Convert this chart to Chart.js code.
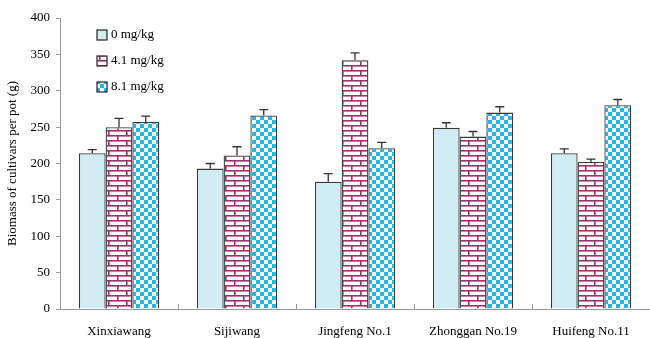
<!DOCTYPE html>
<html>
<head>
<meta charset="utf-8">
<script src="https://cdn.jsdelivr.net/npm/chart.js@4"></script>
<style>
    html, body { margin: 0; padding: 0; background: #ffffff; }
    #box { width: 650px; height: 338px; }
</style>
</head>
<body>
<div id="box"><canvas id="biomassaChart"></canvas></div>
<script>
// Dados
const cultivares = ['Xinxiawang', 'Sijiwang', 'Jingfeng No.1', 'Zhonggan No.19', 'Huifeng No.11'];
const rotulosDose = ['0 mg/kg', '4.1 mg/kg', '8.1 mg/kg'];
const dose0 = [214, 193, 175, 249, 214];
const dose41 = [250, 211, 342, 237, 202];
const dose81 = [257, 266, 221, 270, 280];
const erro0 = [5, 7, 11, 7, 6];
const erro41 = [12, 12, 10, 7, 4];
const erro81 = [8, 8, 8, 8, 8];
const ticksY = [0, 50, 100, 150, 200, 250, 300, 350, 400];

const fonte = '"Liberation Serif", "Times New Roman", serif';

// Padrões de preenchimento
function padraoTijolo() {
    const c = document.createElement('canvas');
    c.width = 18; c.height = 10;
    const g = c.getContext('2d');
    g.fillStyle = '#ffffff';
    g.fillRect(0, 0, 18, 10);
    g.fillStyle = '#a3306a';
    g.fillRect(0, 0, 18, 1.6);
    g.fillRect(0, 5, 18, 1.6);
    g.fillRect(0, 0, 1.6, 5);
    g.fillRect(9, 5, 1.6, 5);
    return g.createPattern(c, 'repeat');
}

function padraoXadrez() {
    const c = document.createElement('canvas');
    c.width = 8; c.height = 8;
    const g = c.getContext('2d');
    g.fillStyle = '#ffffff';
    g.fillRect(0, 0, 8, 8);
    g.fillStyle = '#23b6ec';
    g.fillRect(0, 0, 4, 4);
    g.fillRect(4, 4, 4, 4);
    return g.createPattern(c, 'repeat');
}

const ctx = document.getElementById('biomassaChart').getContext('2d');
const preenchimentos = ['#d1ecf3', padraoTijolo(), padraoXadrez()];
const erros = [erro0, erro41, erro81];

// Barras de erro (só para cima)
const barrasErro = {
    id: 'barrasErro',
    afterDatasetsDraw(chart) {
        const g = chart.ctx;
        const y = chart.scales.y;
        g.save();
        g.strokeStyle = '#333333';
        g.lineWidth = 1.3;
        chart.data.datasets.forEach((ds, d) => {
            chart.getDatasetMeta(d).data.forEach((bar, i) => {
                const topo = y.getPixelForValue(ds.data[i] + erros[d][i]);
                g.beginPath();
                g.moveTo(bar.x, bar.y);
                g.lineTo(bar.x, topo);
                g.moveTo(bar.x - 4.5, topo);
                g.lineTo(bar.x + 4.5, topo);
                g.stroke();
            });
        });
        g.restore();
    }
};

// Marcas do eixo X entre as categorias, para dentro
const marcasX = {
    id: 'marcasX',
    afterDraw(chart) {
        const g = chart.ctx;
        const x = chart.scales.x;
        const base = chart.chartArea.bottom;
        g.save();
        g.strokeStyle = '#999999';
        g.lineWidth = 1;
        for (let i = 1; i < cultivares.length; i++) {
            const px = Math.round((x.getPixelForValue(i - 1) + x.getPixelForValue(i)) / 2) + 0.5;
            g.beginPath();
            g.moveTo(px, base);
            g.lineTo(px, base - 5);
            g.stroke();
        }
        g.restore();
    }
};

// Legenda dentro da área do gráfico
const legendaInterna = {
    id: 'legendaInterna',
    afterDraw(chart) {
        const g = chart.ctx;
        const area = chart.chartArea;
        const x0 = area.left + 37;
        let y0 = area.top + 12;
        g.save();
        g.font = '13px ' + fonte;
        g.textBaseline = 'middle';
        rotulosDose.forEach((rotulo, i) => {
            g.fillStyle = preenchimentos[i];
            g.fillRect(x0, y0, 10, 10);
            g.strokeStyle = '#333333';
            g.lineWidth = 1.3;
            g.strokeRect(x0, y0, 10, 10);
            g.fillStyle = '#000000';
            g.fillText(rotulo, x0 + 14, y0 + 5);
            y0 += 26;
        });
        g.restore();
    }
};

new Chart(ctx, {
    type: 'bar',
    data: {
        labels: cultivares,
        datasets: [dose0, dose41, dose81].map((valores, i) => ({
            label: rotulosDose[i],
            data: valores,
            backgroundColor: preenchimentos[i],
            borderColor: '#3a3a3a',
            borderWidth: 1.3,
            borderSkipped: 'bottom',
            categoryPercentage: 0.68,
            barPercentage: 1.0
        }))
    },
    options: {
        responsive: true,
        maintainAspectRatio: false,
        animation: false,
        layout: { padding: { top: 18, right: 0, left: 0, bottom: 0 } },
        plugins: {
            legend: { display: false },
            tooltip: { enabled: false }
        },
        scales: {
            x: {
                grid: { display: false },
                border: { display: true, color: '#999999', width: 1 },
                ticks: {
                    color: '#000000',
                    font: { family: fonte, size: 13 },
                    padding: 7,
                    maxRotation: 0
                },
                afterFit(scale) { scale.height = 29; }
            },
            y: {
                min: 0,
                max: 400,
                afterBuildTicks(scale) { scale.ticks = ticksY.map(v => ({ value: v })); },
                grid: {
                    display: true,
                    drawOnChartArea: false,
                    drawTicks: true,
                    tickLength: 4,
                    color: '#999999'
                },
                border: { display: true, color: '#999999', width: 1 },
                ticks: {
                    color: '#000000',
                    font: { family: fonte, size: 13 },
                    padding: 6
                },
                title: {
                    display: true,
                    text: 'Biomass of cultivars per pot (g)',
                    color: '#000000',
                    font: { family: fonte, size: 13 },
                    padding: { top: 5, bottom: 0 }
                },
                afterFit(scale) { scale.width = 60; }
            }
        }
    },
    plugins: [barrasErro, marcasX, legendaInterna]
});
</script>
</body>
</html>
